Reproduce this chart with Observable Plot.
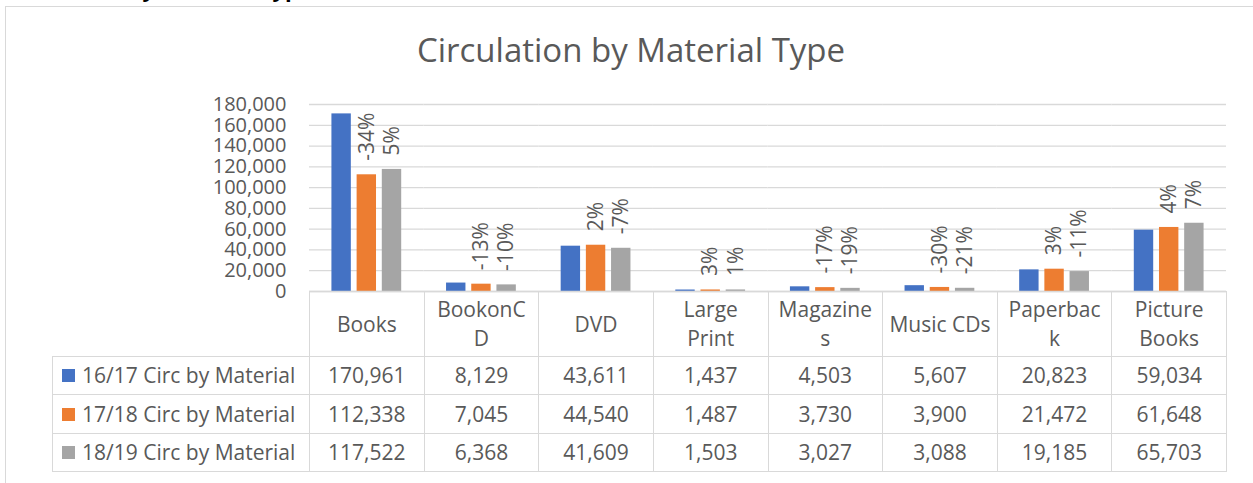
<!DOCTYPE html>
<html>
<head>
<meta charset="utf-8">
<script src="https://cdn.jsdelivr.net/npm/d3@7"></script>
<script src="https://cdn.jsdelivr.net/npm/@observablehq/plot@0.6"></script>
<style>
  html, body { margin: 0; padding: 0; }
  body { width: 1253px; height: 483px; overflow: hidden; background: #fff; position: relative; font-family: "Open Sans", sans-serif; }
  #heading { position: absolute; left: 2px; top: -23px; font: bold 22px "Open Sans", sans-serif; line-height: 22px; color: #000; white-space: nowrap; }
  #frame { position: absolute; left: 5px; top: 6px; width: 1300px; height: 600px; border: 1.5px solid #d9d9d9; box-sizing: border-box; }
  #title { position: absolute; left: 0; width: 1262px; top: 29px; text-align: center; font-size: 33px; line-height: 42px; color: #595959; }
  #chart { position: absolute; left: 0; top: 0; }
  #tbl { position: absolute; left: 0; top: 0; color: #595959; font-size: 21px; }
  .cell { position: absolute; box-sizing: border-box; border: 1px solid #d9d9d9; display: flex; align-items: center; justify-content: center; text-align: center; white-space: pre-line; line-height: 29px; }
  .cell.legend { justify-content: flex-start; padding-left: 9px; white-space: nowrap; }
  .sw { display: inline-block; width: 13px; height: 13px; margin-right: 7px; }
</style>
</head>
<body>
<div id="heading">Circulation by Material Type</div>
<div id="frame"></div>
<div id="title">Circulation by Material Type</div>
<div id="chart"></div>
<div id="tbl"></div>
<script>
// ---- data ----
const categories = ["Books", "BookonCD", "DVD", "Large Print", "Magazines", "Music CDs", "Paperback", "Picture Books"];
const headerLabels = ["Books", "BookonC\nD", "DVD", "Large\nPrint", "Magazine\ns", "Music CDs", "Paperbac\nk", "Picture\nBooks"];
const seriesNames = ["16/17 Circ by Material", "17/18 Circ by Material", "18/19 Circ by Material"];
const circ1617 = [170961, 8129, 43611, 1437, 4503, 5607, 20823, 59034];
const circ1718 = [112338, 7045, 44540, 1487, 3730, 3900, 21472, 61648];
const circ1819 = [117522, 6368, 41609, 1503, 3027, 3088, 19185, 65703];
const change1718 = ["-34%", "-13%", "2%", "3%", "-17%", "-30%", "3%", "4%"];
const change1819 = ["5%", "-10%", "-7%", "1%", "-19%", "-21%", "-11%", "7%"];
const yTicks = [0, 20000, 40000, 60000, 80000, 100000, 120000, 140000, 160000, 180000];
const seriesColors = ["#4472C4", "#ED7D31", "#A5A5A5"];

// ---- build table for Plot ----
const seriesValues = [circ1617, circ1718, circ1819];
const seriesLabels = [null, change1718, change1819];
const rows = [];
categories.forEach((c, i) => {
  seriesNames.forEach((s, k) => {
    rows.push({category: c, series: s, value: seriesValues[k][i], label: seriesLabels[k] ? seriesLabels[k][i] : null});
  });
});

const textColor = "#595959";
const gridColor = "#d9d9d9";

const chart = Plot.plot({
  width: 1253,
  height: 300,
  marginTop: 104,
  marginBottom: 9,
  marginLeft: 309,
  marginRight: 27,
  style: {fontFamily: "'Open Sans', sans-serif", fontSize: "21px", color: textColor, background: "transparent", overflow: "visible"},
  fx: {domain: categories, padding: 0, round: false, axis: null, label: null},
  x: {domain: seriesNames, paddingInner: 0.23, paddingOuter: 0.89, round: false, axis: null, label: null},
  y: {domain: [0, 180000], axis: null, label: null},
  color: {domain: seriesNames, range: seriesColors},
  marks: [
    Plot.gridY(yTicks, {stroke: gridColor, strokeOpacity: 1, strokeWidth: 1.3}),
    Plot.axisY(yTicks, {tickSize: 0, tickPadding: 23, tickFormat: d3.format(","), fontSize: 20, fill: textColor, label: null}),
    Plot.barY(rows, {fx: "category", x: "series", y: "value", fill: "series"}),
    Plot.ruleY([0], {stroke: gridColor, strokeWidth: 1.3}),
    Plot.text(rows.filter(d => d.label), {
      fx: "category", x: "series", y: "value", text: "label",
      rotate: -90, textAnchor: "start", dy: -14, fontSize: 21, fill: textColor
    })
  ]
});
document.getElementById("chart").appendChild(chart);

// ---- data table aligned with the fx scale ----
const fx = chart.scale("fx");
const tbl = document.getElementById("tbl");
const tableLeft = 52;
const firstColLeft = fx.apply(categories[0]);
const rowTops = [291, 356, 394, 433, 471];
function cell(x0, x1, y0, y1, content, cls) {
  const d = document.createElement("div");
  d.className = "cell" + (cls ? " " + cls : "");
  d.style.left = x0 + "px";
  d.style.top = y0 + "px";
  d.style.width = (x1 - x0 + 1) + "px";
  d.style.height = (y1 - y0 + 1) + "px";
  if (typeof content === "string") d.textContent = content; else if (content) d.appendChild(content);
  tbl.appendChild(d);
  return d;
}
// header row
categories.forEach((c, i) => {
  const x0 = fx.apply(c);
  cell(x0, x0 + fx.bandwidth, rowTops[0], rowTops[1], headerLabels[i]);
});
// series rows
const fmt = d3.format(",");
seriesNames.forEach((s, k) => {
  const frag = document.createDocumentFragment();
  const sw = document.createElement("span");
  sw.className = "sw";
  sw.style.background = seriesColors[k];
  frag.appendChild(sw);
  frag.appendChild(document.createTextNode(s));
  cell(tableLeft, firstColLeft, rowTops[k + 1], rowTops[k + 2], frag, "legend");
  categories.forEach((c, i) => {
    const x0 = fx.apply(c);
    cell(x0, x0 + fx.bandwidth, rowTops[k + 1], rowTops[k + 2], fmt(seriesValues[k][i]));
  });
});
</script>
</body>
</html>
